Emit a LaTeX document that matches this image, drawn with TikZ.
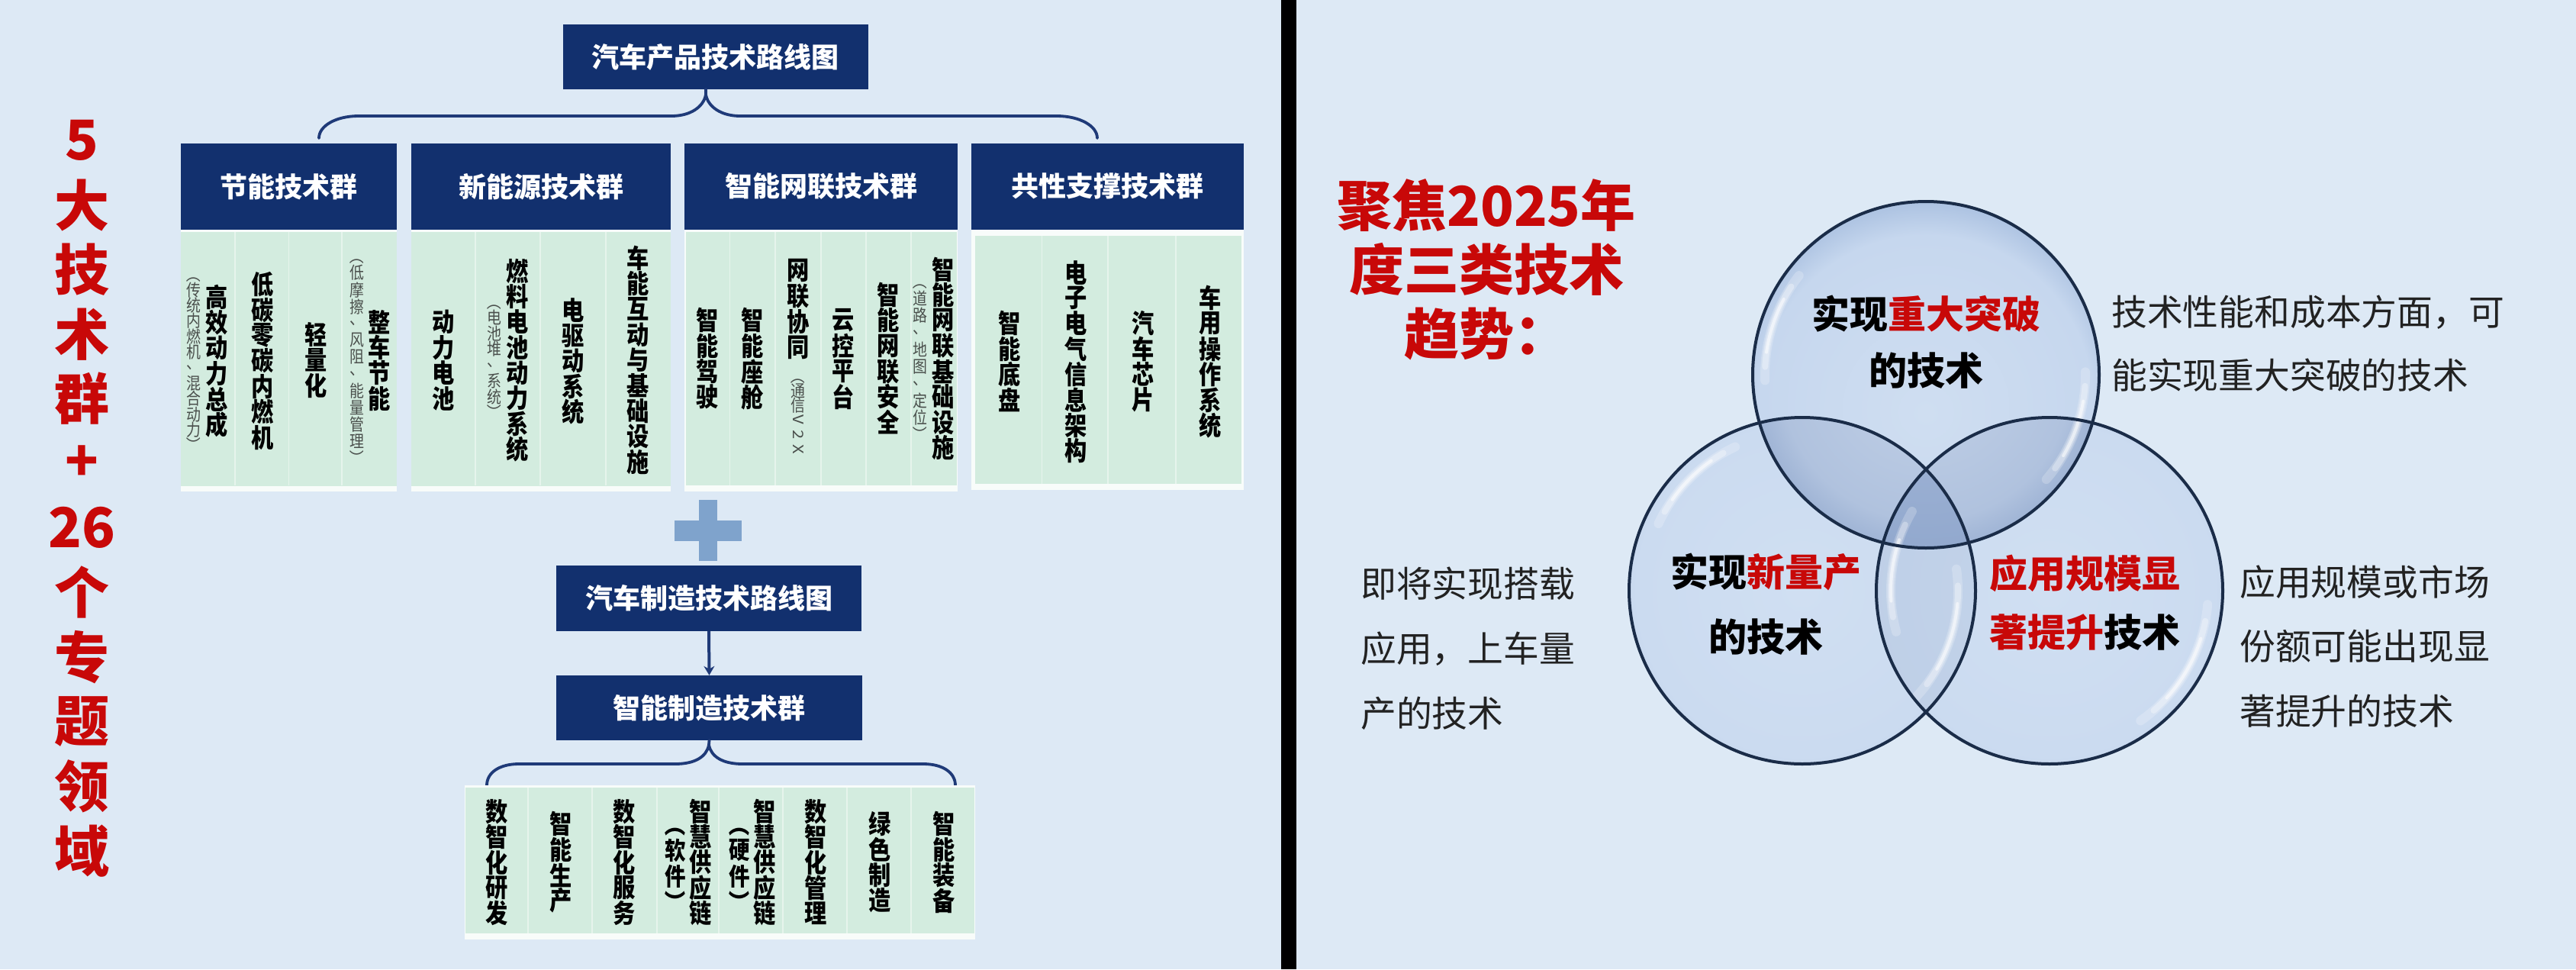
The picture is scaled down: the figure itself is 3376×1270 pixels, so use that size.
\documentclass[tikz,border=0pt]{standalone}
\usepackage{fontspec}
\usepackage{graphicx}
\usetikzlibrary{arrows.meta}
\setmainfont{Noto Sans CJK SC}
\definecolor{bgc}{HTML}{DDE9F5}
\definecolor{navy}{HTML}{12306E}
\definecolor{brc}{HTML}{1F3A78}
\definecolor{panelg}{HTML}{D3ECDF}
\definecolor{divg}{HTML}{E6F4EC}
\definecolor{plusc}{HTML}{7FA3CC}
\definecolor{vred}{HTML}{C80808}
\definecolor{subg}{HTML}{4A4F4C}
\definecolor{rimc}{HTML}{1A2C48}
\definecolor{bodyt}{HTML}{222222}
\definecolor{ta}{HTML}{CFDEF1}\definecolor{tb}{HTML}{C6D7EE}\definecolor{tc}{HTML}{9DB6DA}\definecolor{td}{HTML}{6088C2}\definecolor{te}{HTML}{3F659F}
\definecolor{ba}{HTML}{D0DFF2}\definecolor{bb}{HTML}{CBDBF0}\definecolor{bc}{HTML}{BACCE7}\definecolor{bd}{HTML}{98AED4}\definecolor{be}{HTML}{6F88B6}
\definecolor{da}{HTML}{C2D1E7}\definecolor{db}{HTML}{B0C2DE}\definecolor{dc}{HTML}{8CA4CB}\definecolor{dd}{HTML}{5C78A8}
\definecolor{ma}{HTML}{C4D4EA}\definecolor{mb}{HTML}{BECFE7}\definecolor{mc}{HTML}{A5BADC}\definecolor{md}{HTML}{6E87B4}
\definecolor{ha}{HTML}{A3B7D8}\definecolor{hb}{HTML}{8FA6CC}\definecolor{hc}{HTML}{6C87B6}
\pgfdeclareradialshading{bubblet}{\pgfpoint{0bp}{-5.66bp}}{color(0bp)=(ta); color(24bp)=(tb); color(31bp)=(tc); color(36.8bp)=(td); color(41bp)=(te); color(75bp)=(te)}
\pgfdeclareradialshading{bubble}{\pgfpoint{0bp}{0bp}}{color(0bp)=(ba); color(24bp)=(bb); color(29.7bp)=(bc); color(33.2bp)=(bd); color(35.4bp)=(be); color(75bp)=(be)}
\pgfdeclareradialshading{bubbled}{\pgfpoint{0bp}{0bp}}{color(0bp)=(da); color(21bp)=(db); color(29.7bp)=(dc); color(35.4bp)=(dd); color(75bp)=(dd)}
\pgfdeclareradialshading{bubblem}{\pgfpoint{0bp}{0bp}}{color(0bp)=(ma); color(26.9bp)=(mb); color(31.8bp)=(mc); color(35.4bp)=(md); color(75bp)=(md)}
\pgfdeclareradialshading{bubbleh}{\pgfpoint{0bp}{0bp}}{color(0bp)=(ha); color(29.7bp)=(hb); color(35.4bp)=(hc); color(75bp)=(hc)}
\newlength\vw \newlength\vpt
\def\vsx{1}
\def\vloop#1{\ifx#1\relax\else\hbox to .9\vw{\hss\vbox to \vpt{\vss\hbox{\scalebox{\vsx}[1]{#1}}\vss}\hss}\expandafter\vloop\fi}
\newcommand\vtxt[3]{\vbox{\offinterlineskip\fontsize{#1}{#1}\selectfont\vw=#1pt \vpt=#2pt \vloop#3\relax}}
\newcommand\mv[1]{{\def\vsx{.86}\bfseries\vtxt{34}{33.4}{#1}}}
\newcommand\sv[2]{{\def\vsx{.86}\color{subg}\vtxt{22}{#1}{#2}}}
\def\vpl{\rotatebox[origin=c]{-90}{（}}
\def\vpr{\rotatebox[origin=c]{-90}{）}}
\def\rotV{\rotatebox[origin=c]{-90}{V}}
\def\rotT{\rotatebox[origin=c]{-90}{2}}
\def\rotX{\rotatebox[origin=c]{-90}{X}}
\def\tws{26}
\newcommand\glint[4]{%
 \foreach \w/\f/\o in {12/0/.22,8/.12/.32,4/.25/.55}{%
  \pgfmathsetmacro\aa{#2+(#3-#2)*\f}\pgfmathsetmacro\bb{#3-(#3-#2)*\f}%
  \draw[white,opacity=\o,line width=\w pt,line cap=round] (#1) ++(\aa:#4pt) arc[start angle=\aa,end angle=\bb,radius=#4pt];}}
\tikzset{
 hdr/.style={draw=none,fill=navy,text=white,inner sep=0pt,font=\bfseries\fontsize{36}{36}\selectfont},
 whitep/.style={fill=white!85!panelg},
 greenp/.style={fill=panelg},
 divl/.style={draw=divg,line width=1.6pt},
 brace/.style={draw=brc,line width=3.8pt,line cap=round},
 colt/.style={inner sep=0pt,text=black},
 bigred/.style={inner sep=0pt,text=vred,font=\bfseries\fontsize{72}{72}\selectfont},
 venn/.style={inner sep=0pt,text=black,font=\bfseries\fontsize{50}{50}\selectfont},
 body/.style={inner sep=0pt,anchor=west,text=bodyt,font=\fontsize{46.8}{46.8}\selectfont},
}
\begin{document}
\begin{tikzpicture}[x=1pt,y=-1pt]
\useasboundingbox (0,0) rectangle (3376,1270);
\fill[bgc] (0,0) rectangle (3376,1270);
\fill[black] (1679,0) rectangle (1699,1270);

% left heading
\node[colt,text=vred] (leftttl) at (107,649.3) {\bfseries\color{vred}\vtxt{72}{84.6}{5大技术群+\tws 个专题领域}};

% product roadmap
\node[hdr,minimum width=400,minimum height=85] (top) at (937.5,74.5) {汽车产品技术路线图};
\coordinate (tstem) at (925,117);
\coordinate (tl) at (418,181);
\coordinate (tr) at (1438,181);
\draw[brace] (tstem) -- (925,124) .. controls (922,140) and (905,152) .. (880,152) -- (470,152) .. controls (440,152) and (418,165) .. (tl);
\draw[brace] (925,124) .. controls (928,140) and (945,152) .. (970,152) -- (1385,152) .. controls (1415,152) and (1438,165) .. (tr);

% panels
\fill[whitep] (237,300) rectangle (520,644);
\fill[greenp] (237,304) rectangle (520,637);
\fill[whitep] (539,300) rectangle (879,644);
\fill[greenp] (539,304) rectangle (879,637);
\fill[whitep] (897,300) rectangle (1255,644);
\fill[greenp] (899,304) rectangle (1254,636);
\fill[whitep] (1273,300) rectangle (1630,642);
\fill[greenp] (1278,309) rectangle (1627,634);
\foreach \x in {308,378.5,448,623,708,794,956.5,1016,1076,1135,1194}{\draw[divl] (\x,304) -- (\x,636);}
\foreach \x in {1365.5,1452,1541}{\draw[divl] (\x,309) -- (\x,634);}

\node[hdr,minimum width=283,minimum height=113] (h1) at (378.5,244.5) {节能技术群};
\node[hdr,minimum width=340,minimum height=113] (h2) at (709,244.5) {新能源技术群};
\node[hdr,minimum width=358,minimum height=113] (h3) at (1076,244) {智能网联技术群};
\node[hdr,minimum width=357,minimum height=113] (h4) at (1451.5,244) {共性支撑技术群};

% group 1
\node[colt] (a1s) at (254,471.5) {\sv{20.4}{\vpl 传统内燃机、混合动力\vpr}};
\node[colt] (a1) at (284,473) {\mv{高效动力总成}};
\node[colt] (a2) at (344,473) {\mv{低碳零碳内燃机}};
\node[colt] (a3) at (414,472) {\mv{轻量化}};
\node[colt] (a4s) at (468,468) {\sv{22.1}{\vpl 低摩擦、风阻、能量管理\vpr}};
\node[colt] (a4) at (497,472) {\mv{整车节能}};
% group 2
\node[colt] (b1) at (581,472) {\mv{动力电池}};
\node[colt] (b2s) at (648,468) {\sv{20.8}{\vpl 电池堆、系统\vpr}};
\node[colt] (b2) at (678,472) {\mv{燃料电池动力系统}};
\node[colt] (b3) at (751,473) {\mv{电驱动系统}};
\node[colt] (b4) at (836,472) {\mv{车能互动与基础设施}};
% group 3
\node[colt] (c1) at (927,470) {\mv{智能驾驶}};
\node[colt] (c2) at (986,470) {\mv{智能座舱}};
\node[colt] (c3) at (1046,405) {\mv{网联协同}};
\node[colt] (c3s) at (1046,541) {\sv{19.4}{\vpl 通信\rotV\rotT\rotX}};
\node[colt] (c4) at (1105,470) {\mv{云控平台}};
\node[colt] (c5) at (1164,470) {\mv{智能网联安全}};
\node[colt] (c6s) at (1206,469) {\sv{22.4}{\vpl 道路、地图、定位\vpr}};
\node[colt] (c6) at (1236,470) {\mv{智能网联基础设施}};
% group 4
\node[colt] (d1) at (1323,474) {\mv{智能底盘}};
\node[colt] (d2) at (1410,474) {\mv{电子电气信息架构}};
\node[colt] (d3) at (1498,474) {\mv{汽车芯片}};
\node[colt] (d4) at (1586,474) {\mv{车用操作系统}};

% plus
\fill[plusc] (916,655) rectangle (940,735);
\fill[plusc] (884,682) rectangle (972,708.5);

% manufacturing
\node[hdr,minimum width=400,minimum height=86] (mfg) at (929,784) {汽车制造技术路线图};
\node[hdr,minimum width=401,minimum height=85] (grp) at (929.5,927.5) {智能制造技术群};
\draw[brc,line width=4pt,-{Stealth[length=12pt,width=14pt]}] (mfg.south) -- (grp.north);
\coordinate (ml) at (638,1029);
\coordinate (mr) at (1252,1029);
\draw[brace] (grp.south) -- (929,976) .. controls (926,992) and (910,1001) .. (885,1001) -- (680,1001) .. controls (655,1001) and (638,1012) .. (ml);
\draw[brace] (929,976) .. controls (932,992) and (948,1001) .. (973,1001) -- (1210,1001) .. controls (1235,1001) and (1252,1012) .. (mr);
\fill[whitep] (609,1029) rectangle (1278,1231);
\fill[greenp] (610,1032) rectangle (1277,1223);
\foreach \x in {692,776,861,942,1026,1110,1194}{\draw[divl] (\x,1032) -- (\x,1223);}
\node[colt] (e1) at (651,1130) {\mv{数智化研发}};
\node[colt] (e2) at (735,1130) {\mv{智能生产}};
\node[colt] (e3) at (818.5,1130) {\mv{数智化服务}};
\node[colt] (e4s) at (885,1131) {\def\vsx{.86}\bfseries\vtxt{32}{34}{\vpl 软件\vpr}};
\node[colt] (e4) at (918,1130) {\mv{智慧供应链}};
\node[colt] (e5s) at (969,1131) {\def\vsx{.86}\bfseries\vtxt{32}{34}{\vpl 硬件\vpr}};
\node[colt] (e5) at (1002,1130) {\mv{智慧供应链}};
\node[colt] (e6) at (1069.5,1130) {\mv{数智化管理}};
\node[colt] (e7) at (1153,1130) {\mv{绿色制造}};
\node[colt] (e8) at (1237,1130) {\mv{智能装备}};

% right heading
\node[bigred] (r1) at (1948,269) {聚焦2025年};
\node[bigred] (r2) at (1948,353) {度三类技术};
\node[bigred] (r3) at (1948,437) {趋势：};

% venn
\coordinate (ct) at (2524,491);
\coordinate (cl) at (2362,774);
\coordinate (cr) at (2686,774);
\def\rr{227pt}
\shade[shading=bubblet] (ct) circle[radius=\rr];
\shade[shading=bubble] (cl) circle[radius=\rr];
\shade[shading=bubble] (cr) circle[radius=\rr];
\begin{scope}\clip (cl) circle[radius=\rr]; \shade[shading=bubbled] (ct) circle[radius=\rr];\end{scope}
\begin{scope}\clip (cr) circle[radius=\rr]; \shade[shading=bubbled] (ct) circle[radius=\rr];\end{scope}
\begin{scope}\clip (cl) circle[radius=\rr]; \shade[shading=bubblem] (cr) circle[radius=\rr];\end{scope}
\begin{scope}\clip (cl) circle[radius=\rr]; \clip (cr) circle[radius=\rr]; \shade[shading=bubbleh] (ct) circle[radius=\rr];\end{scope}
\glint{ct}{142}{182}{211}
\glint{ct}{-41}{1}{209}
\glint{cl}{115}{155}{208}
\glint{cl}{-43}{8}{204}
\glint{cr}{150}{195}{208}
\glint{cr}{-55}{-5}{208}
\foreach \c in {ct,cl,cr}{\draw[rimc,line width=4pt] (\c) circle[radius=\rr];}

\node[venn] (v1) at (2524,411) {实现\textcolor{vred}{重大突破}};
\node[venn] (v2) at (2524,486) {的技术};
\node[venn] (v3) at (2314,749) {实现\textcolor{vred}{新量产}};
\node[venn] (v4) at (2314,835) {的技术};
\node[venn] (v5) at (2732,751) {\textcolor{vred}{应用规模显}};
\node[venn] (v6) at (2732,828) {\textcolor{vred}{著提升}技术};

% side texts
\node[body] (t1) at (2767,409.5) {技术性能和成本方面，可};
\node[body] (t2) at (2767,492) {能实现重大突破的技术};
\node[body] (t3) at (1783,765) {即将实现搭载};
\node[body] (t4) at (1783,850) {应用，上车量};
\node[body] (t5) at (1783,935) {产的技术};
\node[body] (t6) at (2935,763) {应用规模或市场};
\node[body] (t7) at (2935,847) {份额可能出现显};
\node[body] (t8) at (2935,931.5) {著提升的技术};
\end{tikzpicture}
\end{document}
